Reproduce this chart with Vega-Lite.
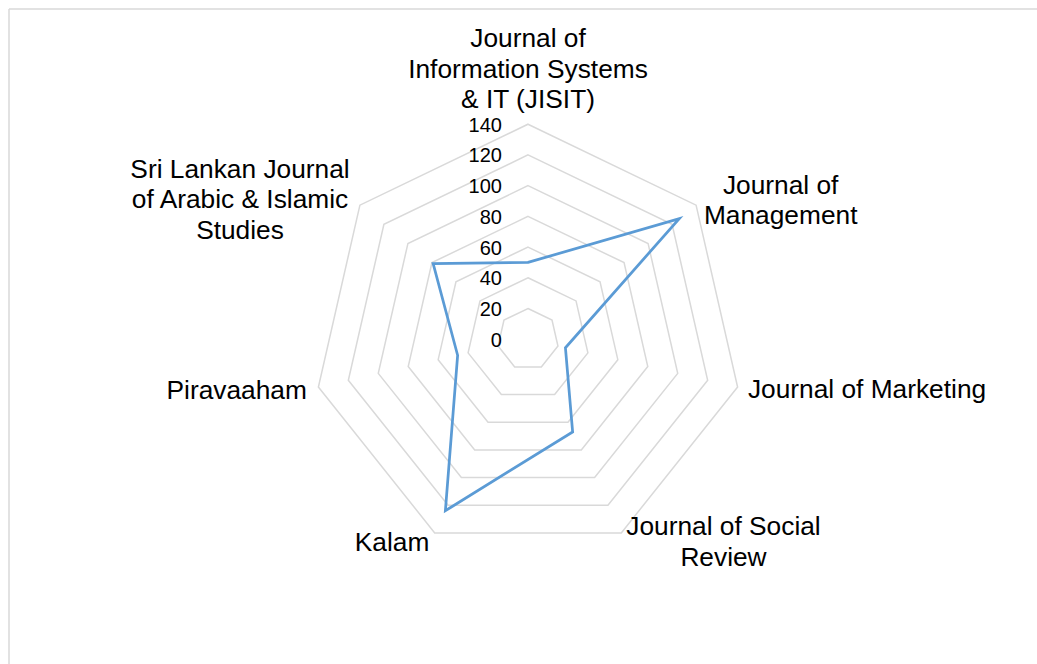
{
  "$schema": "https://vega.github.io/schema/vega-lite/v6.json",
  "width": 1028,
  "height": 655,
  "padding": {"left": 9, "top": 9, "right": 0, "bottom": 0},
  "autosize": {"type": "none"},
  "background": "white",
  "config": {
    "view": {"stroke": "transparent"},
    "text": {"font": "Liberation Sans"}
  },
  "datasets": {
    "journals": [
      {"idx": 0, "journal": "Journal of Information Systems & IT (JISIT)", "label": "Journal of\nInformation Systems\n& IT (JISIT)", "count": 50},
      {"idx": 1, "journal": "Journal of Management", "label": "Journal of\nManagement", "count": 126},
      {"idx": 2, "journal": "Journal of Marketing", "label": "Journal of Marketing", "count": 25},
      {"idx": 3, "journal": "Journal of Social Review", "label": "Journal of Social\nReview", "count": 67},
      {"idx": 4, "journal": "Kalam", "label": "Kalam", "count": 124},
      {"idx": 5, "journal": "Piravaaham", "label": "Piravaaham", "count": 47},
      {"idx": 6, "journal": "Sri Lankan Journal of Arabic & Islamic Studies", "label": "Sri Lankan Journal\nof Arabic & Islamic\nStudies", "count": 79}
    ],
    "rings": [
      {"ring": 0, "spokes": []},
      {"ring": 20, "spokes": [0, 1, 2, 3, 4, 5, 6]},
      {"ring": 40, "spokes": [0, 1, 2, 3, 4, 5, 6]},
      {"ring": 60, "spokes": [0, 1, 2, 3, 4, 5, 6]},
      {"ring": 80, "spokes": [0, 1, 2, 3, 4, 5, 6]},
      {"ring": 100, "spokes": [0, 1, 2, 3, 4, 5, 6]},
      {"ring": 120, "spokes": [0, 1, 2, 3, 4, 5, 6]},
      {"ring": 140, "spokes": [0, 1, 2, 3, 4, 5, 6]}
    ]
  },
  "layer": [
    {
      "data": {"name": "rings"},
      "transform": [
        {"flatten": ["spokes"], "as": ["idx"]},
        {"calculate": "datum.idx * 2 * PI / 7", "as": "ang"},
        {"calculate": "datum.ring * sin(datum.ang)", "as": "px"},
        {"calculate": "datum.ring * cos(datum.ang)", "as": "py"}
      ],
      "mark": {"type": "line", "interpolate": "linear-closed", "color": "#d9d9d9", "strokeWidth": 1.5},
      "encoding": {
        "x": {"field": "px", "type": "quantitative", "scale": {"domain": [-337.95, 331.44], "nice": false, "zero": false}, "axis": null},
        "y": {"field": "py", "type": "quantitative", "scale": {"domain": [-211.5, 215.02], "nice": false, "zero": false}, "axis": null},
        "detail": {"field": "ring", "type": "nominal"},
        "order": {"field": "idx", "type": "quantitative"}
      }
    },
    {
      "data": {"name": "rings"},
      "mark": {"type": "text", "align": "right", "baseline": "middle", "dx": -26, "dy": 1.5, "fontSize": 20, "color": "#000000"},
      "encoding": {
        "x": {"datum": 0, "type": "quantitative"},
        "y": {"field": "ring", "type": "quantitative"},
        "text": {"field": "ring", "type": "quantitative"}
      }
    },
    {
      "data": {"name": "journals"},
      "transform": [
        {"calculate": "datum.idx * 2 * PI / 7", "as": "ang"},
        {"calculate": "datum.count * sin(datum.ang)", "as": "px"},
        {"calculate": "datum.count * cos(datum.ang)", "as": "py"}
      ],
      "mark": {"type": "line", "interpolate": "linear-closed", "color": "#5b9bd5", "strokeWidth": 2.75},
      "encoding": {
        "x": {"field": "px", "type": "quantitative"},
        "y": {"field": "py", "type": "quantitative"},
        "order": {"field": "idx", "type": "quantitative"}
      }
    },
    {
      "data": {"name": "journals"},
      "transform": [
        {"calculate": "datum.idx * 2 * PI / 7", "as": "ang"},
        {"calculate": "140 * sin(datum.ang)", "as": "px"},
        {"calculate": "140 * cos(datum.ang)", "as": "py"}
      ],
      "mark": {
        "type": "text",
        "align": "center",
        "baseline": "middle",
        "lineBreak": "\n",
        "lineHeight": 30.5,
        "fontSize": 26.3,
        "color": "#000000",
        "dx": {"expr": "[0, 84.6, 129.4, 102.2, -42.7, -81.7, -119.9][datum.idx]"},
        "dy": {"expr": "[-85, -19.6, 2.9, -5.6, 10.3, 3.5, -35.2][datum.idx]"}
      },
      "encoding": {
        "x": {"field": "px", "type": "quantitative"},
        "y": {"field": "py", "type": "quantitative"},
        "text": {"field": "label", "type": "nominal"}
      }
    },
    {
      "data": {"values": [{"edge": 215.02}]},
      "mark": {"type": "rule", "color": "#d9d9d9", "strokeWidth": 1.5},
      "encoding": {"y": {"field": "edge", "type": "quantitative"}}
    },
    {
      "data": {"values": [{"edge": -337.95}]},
      "mark": {"type": "rule", "color": "#d9d9d9", "strokeWidth": 1.5},
      "encoding": {"x": {"field": "edge", "type": "quantitative"}}
    }
  ]
}
